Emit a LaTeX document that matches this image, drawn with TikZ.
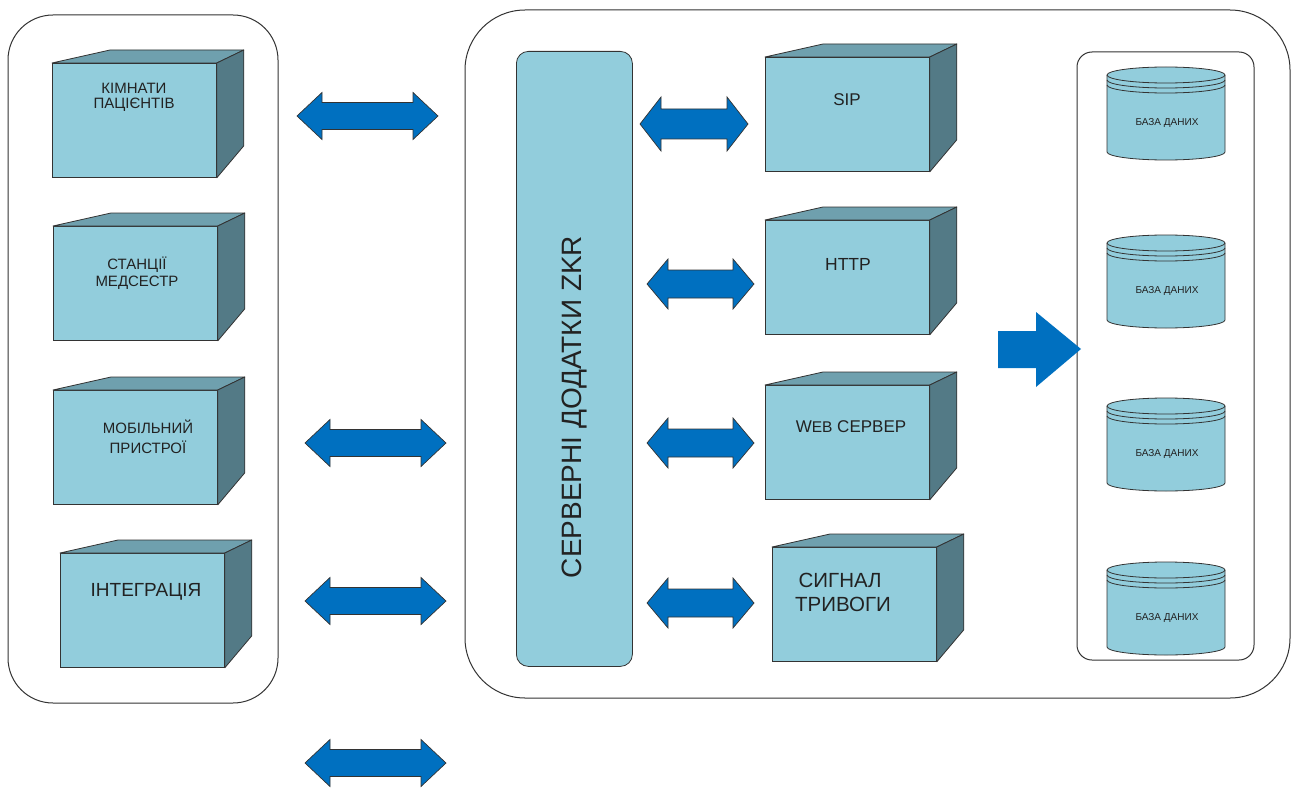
\documentclass[tikz,border=0pt]{standalone}
\usepackage{fontspec}
\setmainfont{Liberation Sans}
\usetikzlibrary{calc}
\definecolor{frontc}{HTML}{92CDDC}
\definecolor{topc}{HTML}{6FA0AE}
\definecolor{sidec}{HTML}{537A86}
\definecolor{arrblue}{HTML}{0070C0}
\definecolor{edgec}{HTML}{333333}
\definecolor{textc}{HTML}{222222}
\tikzset{
  container/.style={draw=edgec, line width=1pt},
  frontface/.style={draw=edgec, fill=frontc, line width=0.8pt, minimum width=164pt, minimum height=114pt, inner sep=0pt, anchor=north west},
  topface/.style={draw=edgec, fill=topc, line width=0.8pt, line join=round},
  sideface/.style={draw=edgec, fill=sidec, line width=0.8pt, line join=round},
  dbbody/.style={draw=edgec, fill=frontc, line width=0.8pt},
  dbline/.style={draw=edgec, line width=0.8pt},
  arrshape/.style={draw=black!80, fill=arrblue, line width=0.7pt, line join=miter},
  lbl/.style={text=textc, inner sep=0pt, align=center},
}
% 3D box: name, x1, y1
\newcommand\boxthreed[3]{%
  \node[frontface] (#1) at (#2,#3) {};
  \path[topface] (#1.north west) -- ++(58,-13) -- ($(#1.north east)+(27,-13)$) -- (#1.north east) -- cycle;
  \path[sideface] (#1.north east) -- ++(27,-13) -- ($(#1.south east)+(27,-32)$) -- (#1.south east) -- cycle;
}
% database cylinder: name, cx, cy (top ellipse centre)
\newcommand\dbcyl[3]{%
  \coordinate (#1) at (#2,#3);
  \path[dbbody] ($(#1)+(-59,0)$) -- ++(0,77) arc[start angle=180,end angle=360,x radius=59pt,y radius=8pt] -- ($(#1)+(59,0)$) arc[start angle=0,end angle=180,x radius=59pt,y radius=8pt] -- cycle;
  \draw[dbline] ($(#1)+(-59,0)$) arc[start angle=180,end angle=360,x radius=59pt,y radius=8pt];
  \draw[dbline] ($(#1)+(-59,5)$) arc[start angle=180,end angle=360,x radius=59pt,y radius=8pt];
  \draw[dbline] ($(#1)+(-59,10)$) arc[start angle=180,end angle=360,x radius=59pt,y radius=8pt];
  \node[lbl, font=\fontsize{10}{10}\selectfont] (#1t) at ($(#1)+(1,48)$) {БАЗА ДАНИХ};
}
% double arrow: name, x1, x2, yc, head length, half head, half shaft
\newcommand\dblarrow[7]{%
  \coordinate (#1a) at (#2,#4);
  \coordinate (#1b) at (#3,#4);
  \path[arrshape] (#1a) -- ($(#1a)+(#5,-#6)$) -- ($(#1a)+(#5,-#7)$) -- ($(#1b)+(-#5,-#7)$) -- ($(#1b)+(-#5,-#6)$) -- (#1b) -- ($(#1b)+(-#5,#6)$) -- ($(#1b)+(-#5,#7)$) -- ($(#1a)+(#5,#7)$) -- ($(#1a)+(#5,#6)$) -- cycle;
}
\begin{document}
\begin{tikzpicture}[x=1pt,y=-1pt]
\useasboundingbox (0,0) rectangle (1293,789);
\fill[white] (0,0) rectangle (1293,789);

% containers
\draw[container, rounded corners=45pt] (8,15) rectangle (278,703);
\draw[container, rounded corners=60pt] (465,10) rectangle (1290,698);
\draw[container, rounded corners=15pt] (1077,52) rectangle (1254,660);

% left boxes
\boxthreed{pat}{52}{63}
\boxthreed{nurse}{53}{226}
\boxthreed{mob}{53}{390}
\boxthreed{integ}{60}{553}
\node[lbl, font=\fontsize{15}{15}\selectfont] (patl) at (134,97) {КІМНАТИ\\ПАЦІЄНТІВ};
\node[lbl, font=\fontsize{15}{17}\selectfont] (nursel) at (137,273.5) {СТАНЦІЇ\\МЕДСЕСТР};
\node[lbl, font=\fontsize{15}{20}\selectfont] (mobl) at (148,437) {МОБІЛЬНИЙ\\ПРИСТРОЇ};
\node[lbl, font=\fontsize{19}{19}\selectfont] (integl) at (146,592) {ІНТЕГРАЦІЯ};

% server applications bar
\node[draw=edgec, fill=frontc, line width=0.8pt, rounded corners=12pt, minimum width=116pt, minimum height=615pt, inner sep=0pt, anchor=north west] (srv) at (516,51) {};
\node[lbl, rotate=90, font=\fontsize{28}{28}\selectfont] (srvl) at (575,407) {СЕРВЕРНІ ДОДАТКИ ZKR};

% middle boxes
\boxthreed{sip}{765}{57}
\boxthreed{http}{765}{220}
\boxthreed{web}{765}{385}
\boxthreed{alarm}{772}{547}
\node[lbl, font=\fontsize{17}{17}\selectfont] (sipl) at (847,100) {SIP};
\node[lbl, font=\fontsize{17.5}{17.5}\selectfont] (httpl) at (848,264) {HTTP};
\node[lbl, font=\fontsize{17}{17}\selectfont] (webl) at (851,427) {W{\fontsize{15.5}{15.5}\selectfont EB} СЕРВЕР};
\node[lbl, align=left, anchor=west, font=\fontsize{20.5}{24}\selectfont] (alarml) at (795,592) {\,СИГНАЛ\\ТРИВОГИ};

% databases
\dbcyl{db1}{1166}{75}
\dbcyl{db2}{1166}{243}
\dbcyl{db3}{1166}{406}
\dbcyl{db4}{1166}{570}

% double arrows, left column
\dblarrow{la1}{297}{438}{116}{25}{23.5}{13.5}
\dblarrow{la2}{305}{446}{443}{25}{23.5}{13.5}
\dblarrow{la3}{305}{446}{601}{25}{23.5}{13.5}
\dblarrow{la4}{305}{446}{763}{25}{23.5}{13.5}

% double arrows, middle column
\dblarrow{ma1}{640}{748}{124}{21}{27}{15}
\dblarrow{ma2}{647}{754}{284}{21}{25}{14}
\dblarrow{ma3}{647}{754}{443}{21}{25}{14}
\dblarrow{ma4}{647}{754}{603}{21}{25}{14}

% big arrow to databases
\coordinate (bigs) at (998,349);
\coordinate (bigt) at (1081,349);
\fill[arrblue] (bigs) ++(0,-18) -- (1036,331) -- (1036,312) -- (bigt) -- (1036,387) -- (1036,368) -- (998,368) -- cycle;
\end{tikzpicture}
\end{document}
